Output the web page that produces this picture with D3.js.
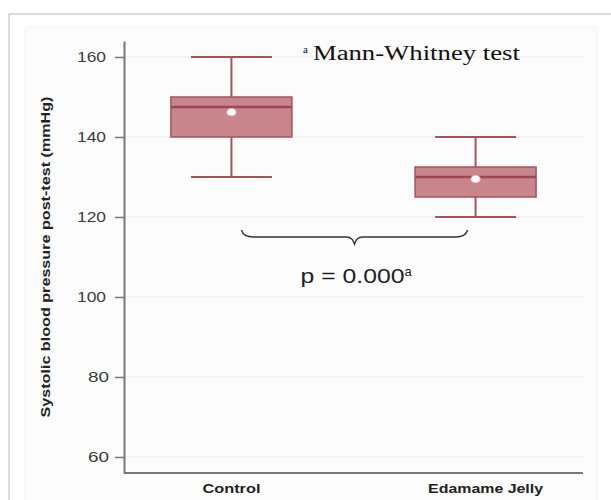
<!DOCTYPE html>
<html>
<head>
<meta charset="utf-8">
<script src="https://cdn.jsdelivr.net/npm/d3@7"></script>
<style>
  body { margin: 0; background: #fff; }
  svg { display: block; }
</style>
</head>
<body>
<div id="chart-area"></div>
<script>
// data
var groups = ['Control', 'Edamame Jelly']
var q1 = [140, 125]
var median = [147.5, 130]
var q3 = [150, 132.5]
var whiskerLow = [130, 120]
var whiskerHigh = [160, 140]
var means = [146.2, 129.5]
var yTicks = [60, 80, 100, 120, 140, 160]

var svgWidth = 611
var svgHeight = 500

var margin = { left: 124, right: 28, top: 41, bottom: 27 }
var width = svgWidth - margin.left - margin.right
var height = svgHeight - margin.top - margin.bottom

var boxColor = '#c8858c'
var lineColor = '#a3545e'

var svg = d3.select('#chart-area')
    .append('svg')
        .attr('width', svgWidth)
        .attr('height', svgHeight)

// outer frame + inner panel
svg.append('rect')
    .attr('x', 9).attr('y', 14)
    .attr('width', svgWidth).attr('height', svgHeight)
    .attr('fill', '#fff')
    .attr('stroke', '#dcdcdc')
    .attr('stroke-width', 2)

svg.append('rect')
    .attr('x', 25).attr('y', 27)
    .attr('width', 572).attr('height', svgHeight)
    .attr('fill', '#fcfcfc')
    .attr('stroke', '#f2f2f2')

var g = svg.append('g')
    .attr('transform', `translate(${margin.left}, ${margin.top})`)

// scales
var x = d3.scalePoint()
    .domain(groups)
    .range([0, width])
    .padding(0.44)

var y = d3.scaleLinear()
    .domain([56, 164])
    .range([height, 0])

// gridlines
g.selectAll('.grid')
    .data(yTicks)
    .enter().append('line')
        .attr('class', 'grid')
        .attr('x1', 0).attr('x2', width)
        .attr('y1', d => y(d)).attr('y2', d => y(d))
        .attr('stroke', '#f0f0f0')
        .attr('stroke-width', 1.5)

// Y axis
var yAxis = g.append('g')
    .call(d3.axisLeft(y).tickValues(yTicks).tickSize(9).tickSizeOuter(0).tickPadding(9))
yAxis.select('.domain').attr('stroke', '#777').attr('stroke-width', 2)
yAxis.selectAll('.tick line').attr('stroke', '#777').attr('stroke-width', 1.5)
yAxis.selectAll('.tick text')
    .attr('fill', '#3a3a3a')
    .attr('font-family', 'Liberation Sans, Arial, sans-serif')
    .attr('font-size', '15px')
    .attr('lengthAdjust', 'spacingAndGlyphs')
    .attr('textLength', d => d < 100 ? 21 : 29)
    .attr('x', d => d < 100 ? -15 : -18)

// X axis line
g.append('line')
    .attr('x1', 0).attr('x2', width)
    .attr('y1', height).attr('y2', height)
    .attr('stroke', '#777')
    .attr('stroke-width', 2)

// category labels
var catLen = [58, 115]
g.selectAll('.cat')
    .data(groups)
    .enter().append('text')
        .attr('class', 'cat')
        .attr('x', (d, i) => x(d) + (i === 1 ? 10 : 0))
        .attr('y', height + 20)
        .attr('text-anchor', 'middle')
        .attr('font-family', 'Liberation Sans, Arial, sans-serif')
        .attr('font-weight', 'bold')
        .attr('font-size', '12px')
        .attr('fill', '#222')
        .attr('textLength', (d, i) => catLen[i])
        .attr('lengthAdjust', 'spacingAndGlyphs')
        .text(d => d)

// y label
g.append('text')
    .attr('x', -y(110))
    .attr('y', -74)
    .attr('transform', 'rotate(-90)')
    .attr('text-anchor', 'middle')
    .attr('font-family', 'Liberation Sans, Arial, sans-serif')
    .attr('font-weight', 'bold')
    .attr('font-size', '13px')
    .attr('fill', '#222')
    .attr('textLength', 321)
    .attr('lengthAdjust', 'spacingAndGlyphs')
    .text('Systolic blood pressure post-test (mmHg)')

// box plots
var boxW = 121
var capW = 81
var boxes = g.selectAll('.box')
    .data(groups)
    .enter().append('g')
        .attr('class', 'box')
        .attr('transform', d => `translate(${x(d)}, 0)`)

boxes.append('line')
    .attr('x1', 0).attr('x2', 0)
    .attr('y1', (d, i) => y(whiskerHigh[i]))
    .attr('y2', (d, i) => y(whiskerLow[i]))
    .attr('stroke', lineColor).attr('stroke-width', 2)

boxes.selectAll('.cap')
    .data((d, i) => [whiskerLow[i], whiskerHigh[i]])
    .enter().append('line')
        .attr('x1', -capW / 2).attr('x2', capW / 2)
        .attr('y1', v => y(v)).attr('y2', v => y(v))
        .attr('stroke', lineColor).attr('stroke-width', 2)

boxes.append('rect')
    .attr('x', -boxW / 2)
    .attr('width', boxW)
    .attr('y', (d, i) => y(q3[i]))
    .attr('height', (d, i) => y(q1[i]) - y(q3[i]))
    .attr('fill', boxColor)
    .attr('stroke', lineColor)
    .attr('stroke-width', 1.5)

boxes.append('line')
    .attr('x1', -boxW / 2).attr('x2', boxW / 2)
    .attr('y1', (d, i) => y(median[i]))
    .attr('y2', (d, i) => y(median[i]))
    .attr('stroke', '#9c4752').attr('stroke-width', 2.5)

boxes.append('ellipse')
    .attr('cx', 0)
    .attr('cy', (d, i) => y(means[i]))
    .attr('rx', 4.5).attr('ry', 3.5)
    .attr('fill', '#fff')
    .attr('stroke', '#e8c8cb')
    .attr('stroke-width', 1)

// brace under the boxes
var bL = x(groups[0]) + 10
var bR = x(groups[1]) - 8
var bM = (bL + bR) / 2
var bY = y(115)
var brace = d3.path()
brace.moveTo(bL, bY - 7)
brace.quadraticCurveTo(bL + 2, bY, bL + 12, bY)
brace.lineTo(bM - 8, bY)
brace.quadraticCurveTo(bM - 2, bY, bM, bY + 7)
brace.quadraticCurveTo(bM + 2, bY, bM + 8, bY)
brace.lineTo(bR - 12, bY)
brace.quadraticCurveTo(bR - 2, bY, bR, bY - 7)
g.append('path')
    .attr('d', brace.toString())
    .attr('fill', 'none')
    .attr('stroke', '#333')
    .attr('stroke-width', 1.4)

// p value
var pText = g.append('text')
    .attr('x', bM - 54)
    .attr('y', y(103.5))
    .attr('font-family', 'Liberation Sans, Arial, sans-serif')
    .attr('font-size', '21px')
    .attr('fill', '#222')
pText.append('tspan')
    .attr('textLength', 104)
    .attr('lengthAdjust', 'spacingAndGlyphs')
    .text('p = 0.000')
pText.append('tspan')
    .attr('font-size', '13px')
    .attr('dy', -7)
    .text('a')

// test note
var note = g.append('text')
    .attr('x', 303 - margin.left)
    .attr('y', 60 - margin.top)
    .attr('font-family', 'Liberation Serif, Times New Roman, serif')
    .attr('font-size', '20px')
    .attr('fill', '#111')
note.append('tspan')
    .attr('font-size', '11px')
    .attr('dy', -7)
    .text('a')
note.append('tspan')
    .attr('dx', 5)
    .attr('dy', 7)
    .attr('textLength', 207)
    .attr('lengthAdjust', 'spacingAndGlyphs')
    .text('Mann-Whitney test')
</script>
</body>
</html>
